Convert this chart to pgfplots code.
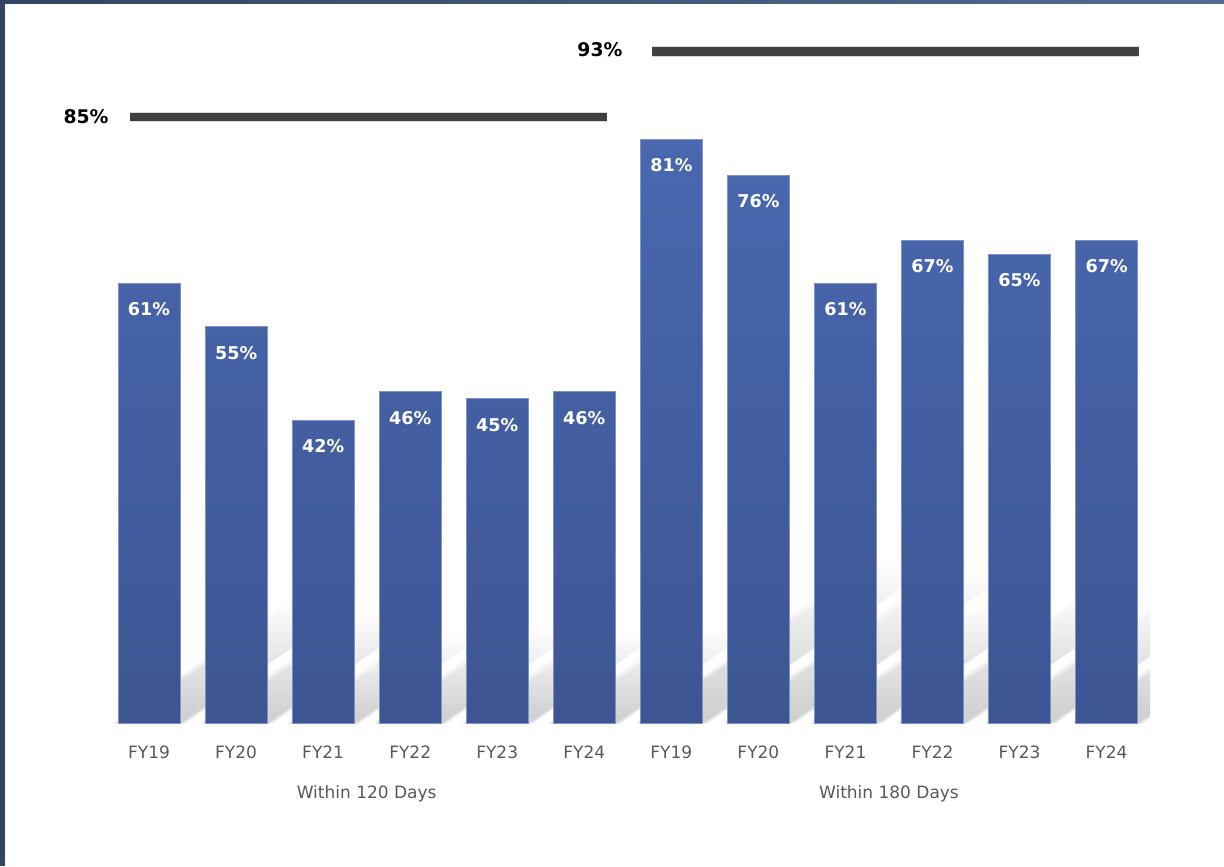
\documentclass[border=0pt]{standalone}
\usepackage{fontspec}
\setmainfont{DejaVu Sans}
\usepackage{pgfplots}
\pgfplotsset{compat=1.18}
\usetikzlibrary{fadings}
\tikzfading[name=shfade, bottom color=transparent!40, middle color=transparent!0, top color=transparent!100]
\definecolor{bartop}{RGB}{73,104,176}
\definecolor{barbot}{RGB}{61,85,146}
\definecolor{baredge}{RGB}{125,148,200}
\definecolor{target}{RGB}{64,64,64}
\definecolor{ticktext}{RGB}{89,89,89}
\definecolor{frameL}{RGB}{52,68,100}
\definecolor{frameR}{RGB}{80,110,140}
\begin{document}
\begin{tikzpicture}
\fill[white] (-52.75pt,-71.25pt) rectangle (559.25pt,361.75pt);
\fill[frameL] (-52.75pt,-71.25pt) rectangle (-50.25pt,361.75pt);
\shade[left color=frameL,right color=frameR] (-52.75pt,360pt) rectangle (559.25pt,361.75pt);
\begin{axis}[
  at={(0pt,0pt)}, anchor=south west,
  x=43.525pt, y=3.6075pt,
  xmin=-0.5, xmax=11.5, ymin=0, ymax=100,
  axis line style={draw=none}, tick style={draw=none},
  ytick=\empty,
  xtick={0,...,11},
  xticklabels={FY19,FY20,FY21,FY22,FY23,FY24,FY19,FY20,FY21,FY22,FY23,FY24},
  xticklabel style={font=\fontsize{8.5}{10}\selectfont, text=ticktext, anchor=center, yshift=-14.25pt},
  /pgf/number format/assume math mode=true,
  clip=true,
]
% perspective shadows behind the bars (derived from the bar values)
\foreach \i/\v in {0/61,1/55,2/42,3/46,4/45,5/46,6/81,7/76,8/61,9/67,10/65,11/67}{
  \pgfmathsetmacro{\hs}{0.28*\v}
  \pgfmathsetmacro{\sh}{\hs*0.1219}
  \foreach \d in {0.06,0.03,0}{
    \pgfmathsetmacro{\xa}{\i-0.356-\d}
    \pgfmathsetmacro{\xb}{\i+0.356+\d}
    \pgfmathsetmacro{\xc}{\xb+\sh}
    \pgfmathsetmacro{\xd}{\xa+\sh}
    \pgfmathsetmacro{\ht}{\hs+\d*10}
    \edef\tmp{\noexpand\addplot[draw=none, fill=black, fill opacity=0.115, path fading=shfade, forget plot] coordinates {(\xa,0) (\xb,0) (\xc,\ht) (\xd,\ht) (\xa,0)};}
    \tmp
  }
}
% bars
\addplot[ybar, bar width=0.712, bar shift=0pt, draw=baredge, line width=0.4pt,
  top color=bartop, bottom color=barbot, point meta=y,
  nodes near coords={\pgfmathprintnumber[fixed,precision=0]{\pgfplotspointmeta}\%},
  every node near coord/.append style={font=\bfseries\fontsize{8.8}{10}\selectfont, text=white, anchor=center, yshift=-13pt}]
  coordinates {(0,61) (1,55) (2,42) (3,46) (4,45) (5,46) (6,81) (7,76) (8,61) (9,67) (10,65) (11,67)};
% target lines
\addplot[gray!30, line width=5.4pt, forget plot] coordinates {(-0.218,84.05) (5.261,84.05)};
\addplot[target, line width=4.4pt, forget plot] coordinates {(-0.218,84.05) (5.261,84.05)};
\addplot[gray!30, line width=5.4pt, forget plot] coordinates {(5.778,93.1) (11.373,93.1)};
\addplot[target, line width=4.4pt, forget plot] coordinates {(5.778,93.1) (11.373,93.1)};
\coordinate (t85) at (axis cs:-0.724,84.1);
\coordinate (t93) at (axis cs:5.18,93.4);
\coordinate (g1) at (axis cs:2.5,0);
\coordinate (g2) at (axis cs:8.5,0);
\end{axis}
\node[font=\bfseries\fontsize{9.4}{11}\selectfont, text=black] at (t85) {85\%};
\node[font=\bfseries\fontsize{9.4}{11}\selectfont, text=black] at (t93) {93\%};
\node[font=\fontsize{8.5}{10}\selectfont, text=ticktext] at ([yshift=-35.25pt]g1) {Within 120 Days};
\node[font=\fontsize{8.5}{10}\selectfont, text=ticktext] at ([yshift=-35.25pt]g2) {Within 180 Days};
\end{tikzpicture}
\end{document}
